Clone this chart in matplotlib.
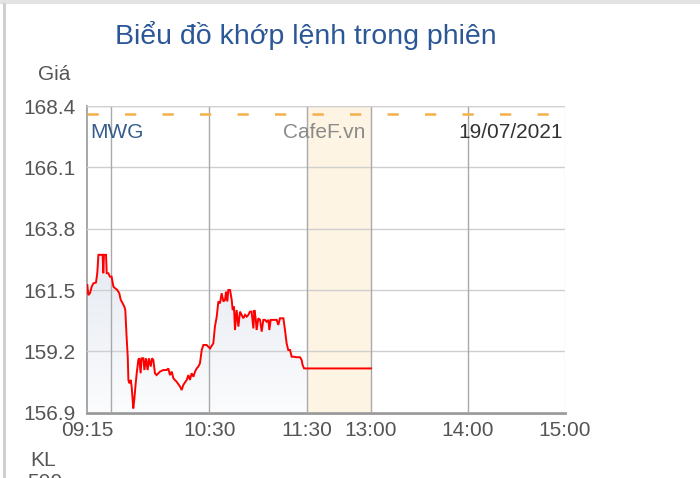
import numpy as np
import matplotlib
matplotlib.use("Agg")
import matplotlib.pyplot as plt
from matplotlib.colors import LinearSegmentedColormap
from matplotlib.patches import Rectangle
from matplotlib.lines import Line2D

plt.rcParams['font.family'] = ['Liberation Sans', 'DejaVu Sans']

# ---------------- data ----------------
title = "Biểu đồ khớp lệnh trong phiên"
symbol = "MWG"
source = "CafeF.vn"
date_label = "19/07/2021"
ceiling_price = 168.1

y_ticks = [156.9, 159.2, 161.5, 163.8, 166.1, 168.4]
# minutes since 09:15
x_tick_minutes = [0, 15, 75, 135, 225, 285, 345]
x_tick_labels = ["09:15", "", "10:30", "11:30", "13:00", "14:00", "15:00"]
lunch_start, lunch_end = 135, 225

minutes = [0.2, 0.8, 1.8, 2.9, 3.9, 5.5, 6.3, 7.0, 8.4, 9.6, 10.0, 10.4, 11.7, 12.1,
           13.1, 14.1, 15.1, 16.2, 17.2, 18.6, 19.8, 20.7, 21.9, 22.9, 23.5, 24.3,
           25.0, 25.4, 26.0, 26.8, 27.4, 28.0, 28.4, 29.0, 29.7, 30.5, 31.5, 32.1,
           32.9, 33.5, 34.6, 35.2, 36.2, 37.2, 38.0, 39.1, 39.9, 40.7, 41.7, 42.7,
           44.8, 46.8, 48.9, 49.9, 50.9, 52.0, 53.0, 55.0, 57.1, 58.1, 59.1, 61.2,
           62.2, 63.2, 64.2, 65.3, 66.3, 67.3, 68.3, 69.3, 70.4, 71.4, 73.4, 75.5,
           77.5, 78.5, 79.6, 80.6, 81.6, 82.6, 83.7, 84.7, 85.3, 86.1, 86.7, 87.8,
           88.8, 89.4, 90.2, 90.8, 91.8, 92.9, 93.9, 94.9, 95.9, 97.0, 98.0, 99.0,
           100.0, 101.0, 102.1, 102.7, 103.5, 104.1, 105.1, 106.2, 107.2, 108.2,
           109.2, 110.2, 111.3, 111.9, 112.7, 114.3, 116.4, 117.4, 118.4, 120.5,
           121.5, 122.5, 123.5, 124.6, 125.6, 126.6, 128.7, 130.7, 131.7, 132.3,
           133.2, 134.4, 135.0, 225.0]
prices = [161.69, 161.31, 161.38, 161.63, 161.75, 161.78, 162.13, 162.82, 162.82, 162.82,
          162.13, 162.82, 162.82, 162.13, 162.13, 162.00, 162.00, 161.63, 161.57, 161.50,
          161.38, 161.13, 161.00, 160.88, 160.75, 159.75, 159.00, 158.13, 158.00, 158.13,
          157.88, 157.38, 157.06, 157.38, 157.88, 158.38, 158.88, 158.94, 158.38, 158.94,
          158.94, 158.50, 158.94, 158.50, 158.94, 158.63, 158.94, 158.88, 158.38, 158.31,
          158.44, 158.50, 158.50, 158.56, 158.31, 158.44, 158.19, 158.06, 157.88, 157.75,
          157.94, 158.13, 158.31, 158.13, 158.38, 158.25, 158.44, 158.56, 158.63, 158.75,
          159.25, 159.44, 159.44, 159.31, 159.50, 160.13, 160.50, 161.07, 161.00, 161.38,
          161.07, 161.13, 161.44, 161.07, 161.50, 161.50, 161.13, 160.75, 160.88, 160.00,
          160.75, 160.13, 160.69, 160.57, 160.44, 160.57, 160.50, 160.57, 160.69, 160.69,
          160.06, 160.75, 160.44, 160.00, 160.44, 160.38, 159.94, 160.38, 160.38, 160.31,
          160.38, 160.00, 160.38, 160.38, 160.38, 160.19, 160.44, 160.44, 160.00, 159.50,
          159.25, 159.25, 159.00, 159.00, 158.98, 158.98, 158.88, 158.69, 158.56, 158.56,
          158.56, 158.56]

# ---------------- time scale (lunch break compressed) ----------------
scale_minutes = [0, 135, 225, 345]
scale_pos = [0, 220, 284, 478]


def pos(m):
    return np.interp(m, scale_minutes, scale_pos)


W, H = 700, 478
fig = plt.figure(figsize=(W / 100, H / 100), dpi=100)
fig.patch.set_facecolor("white")

ax_left, ax_right, ax_top, ax_bottom = 87, 565, 106, 412.7
ax = fig.add_axes([ax_left / W, 1 - ax_bottom / H, (ax_right - ax_left) / W,
                   (ax_bottom - ax_top) / H])
ax.set_facecolor("white")

x = pos(np.array(minutes))
y = np.array(prices)
ymin, ymax = y_ticks[0], y_ticks[-1]
ax.set_xlim(pos(x_tick_minutes[0]), pos(x_tick_minutes[-1]))
ax.set_ylim(ymin, ymax)

# gradient fill under the line
poly = ax.fill_between(x, y, ymin, color="none", lw=0, zorder=1)
cmap = LinearSegmentedColormap.from_list("g", ["#fbfcfd", "#e6eaf2"])
grad = np.linspace(0, 1, 256).reshape(-1, 1)
im = ax.imshow(grad, cmap=cmap, origin="lower", aspect="auto",
               extent=[x.min(), x.max(), ymin, y.max()], zorder=1)
im.set_clip_path(poly.get_paths()[0], transform=ax.transData)
ax.set_xlim(pos(x_tick_minutes[0]), pos(x_tick_minutes[-1]))
ax.set_ylim(ymin, ymax)

# lunch band
ax.axvspan(pos(lunch_start), pos(lunch_end), color="#fdf4e3", lw=0, zorder=2)

# grid
for yt in y_ticks:
    ax.axhline(yt, color="#cfcfcf", lw=1, zorder=3)
for xt in x_tick_minutes[1:-1]:
    ax.axvline(pos(xt), color="#a9a9a9", lw=1, zorder=3)
ax.axvline(pos(x_tick_minutes[-1]), color="#e6e6e6", lw=1, zorder=3)

# ceiling price dashed line
ax.axhline(ceiling_price, color="#f5b04a", lw=1.8, ls=(0, (4.5, 10.5)), zorder=4)

# price line
ax.plot(x, y, color="#ff0000", lw=1.4, zorder=5, solid_joinstyle="miter")

for s in ["top", "right"]:
    ax.spines[s].set_visible(False)
ax.spines["left"].set_color("#a0a0a0")
ax.spines["left"].set_linewidth(1.3)
ax.spines["bottom"].set_color("#999999")
ax.spines["bottom"].set_linewidth(2)
ax.axhline(ymax, color="#d0d0d0", lw=1, zorder=3)

ax.set_yticks(y_ticks)
ax.set_yticklabels([f"{v:.1f}" for v in y_ticks])
ax.set_xticks(pos(x_tick_minutes))
ax.set_xticklabels(x_tick_labels)
ax.tick_params(axis="both", length=0, labelsize=15, colors="#555555")
ax.tick_params(axis="y", pad=8)
ax.tick_params(axis="x", pad=6)

# texts inside the chart
ax.text(0.006, 0.915, symbol, transform=ax.transAxes, fontsize=15,
        color="#355d8c", va="center", ha="left", zorder=6)
ax.text(0.41, 0.915, source, transform=ax.transAxes, fontsize=15,
        color="#8a8a8a", va="center", ha="left", zorder=6)
ax.text(0.995, 0.915, date_label, transform=ax.transAxes, fontsize=15,
        color="#333333", va="center", ha="right", zorder=6)

# figure texts
fig.text(306 / W, 1 - 35 / H, title, fontsize=20.5, color="#2b5797",
         ha="center", va="center")
fig.text(38 / W, 1 - 75 / H, "Giá", fontsize=15, color="#555555",
         ha="left", va="center")
fig.text(30 / W, 1 - 460 / H, "KL", fontsize=15, color="#555555",
         ha="left", va="center")
fig.text(27 / W, 1 - 488 / H, "500", fontsize=15, color="#555555",
         ha="left", va="baseline")

# panel border
fig.add_artist(Rectangle((0, 1 - 4 / H), 1, 4 / H, transform=fig.transFigure,
                         color="#e3e3e3", lw=0))
fig.add_artist(Line2D([3.5 / W, 3.5 / W], [0, 1 - 4 / H], transform=fig.transFigure,
                      color="#cfcfcf", lw=2.2))

fig.savefig("out.png", dpi=100)
